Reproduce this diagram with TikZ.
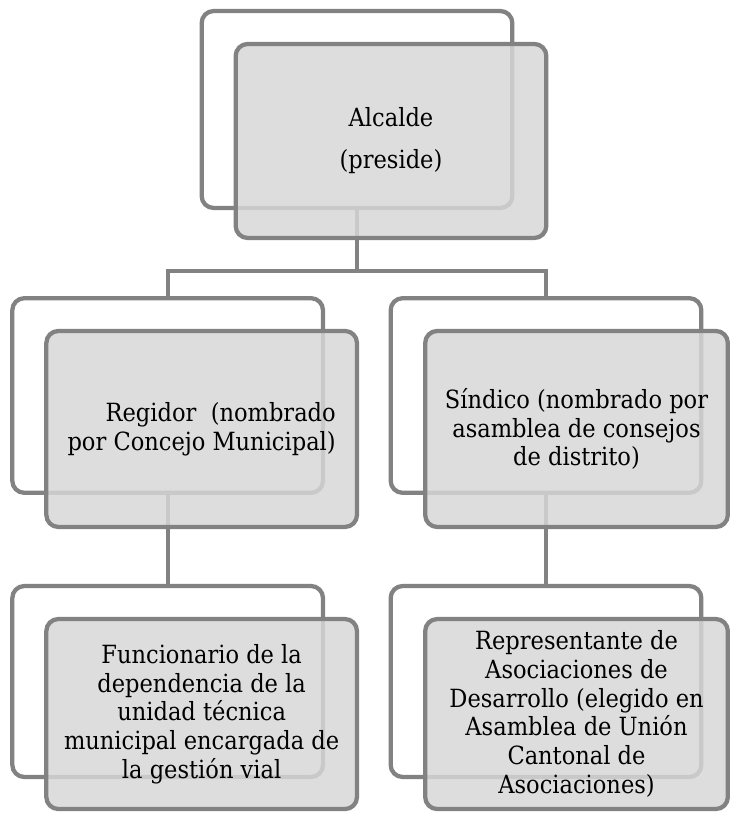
\documentclass[tikz,border=0pt]{standalone}
\usepackage{fontspec}
\setmainfont{DejaVu Serif}[FakeStretch=0.9]
\usetikzlibrary{shapes.geometric, arrows}
\definecolor{boxline}{RGB}{130,130,130}
\definecolor{boxfill}{RGB}{215,215,216}
\tikzstyle{backbox} = [rectangle, rounded corners=9pt, minimum width=233pt, minimum height=146pt, draw=boxline, line width=3.2pt]
\tikzstyle{frontbox} = [rectangle, rounded corners=9pt, minimum width=233pt, minimum height=146pt, align=center, draw=boxline, line width=3.2pt, fill=boxfill, fill opacity=0.84, text opacity=1, text=black, font=\fontsize{18.8}{21.5}\selectfont]
\tikzstyle{link} = [draw=boxline, line width=3.2pt]

\begin{document}
\begin{tikzpicture}[node distance=214.5pt]
\useasboundingbox (-267.75pt,82.125pt) rectangle (279pt,-528.375pt);
% back boxes
\node (alcaldeb) [backbox, minimum height=147.75pt] {};
\node (regidorb) [backbox, below of=alcaldeb, xshift=-142pt] {};
\node (sindicob) [backbox, below of=alcaldeb, xshift=141.75pt] {};
\node (funcb) [backbox, below of=regidorb, minimum height=143.25pt] {};
\node (reprb) [backbox, below of=sindicob, minimum height=143.25pt] {};
\draw [link] (alcaldeb.south) -- ++(0,-45.75pt) -| (regidorb.north);
\draw [link] (alcaldeb.south) -- ++(0,-45.75pt) -| (sindicob.north);
\draw [link] (regidorb) -- (funcb);
\draw [link] (sindicob) -- (reprb);
% front boxes
\node (alcalde) [frontbox, minimum height=145.5pt, xshift=25.5pt, yshift=-23.6pt] at (alcaldeb) {Alcalde\\[10pt](preside)};
\node (regidor) [frontbox, align=right, minimum height=147pt, xshift=25.5pt, yshift=-25.1pt] at (regidorb) {Regidor~~(nombrado\\por Concejo Municipal)};
\node (sindico) [frontbox, minimum width=227pt, minimum height=147pt, xshift=22.9pt, yshift=-25.1pt] at (sindicob) {Síndico (nombrado por\\asamblea de consejos\\de distrito)};
\node (func) [frontbox, minimum height=142.5pt, xshift=25.5pt, yshift=-24.4pt] at (funcb) {Funcionario de la\\dependencia de la\\unidad técnica\\municipal encargada de\\la gestión vial};
\node (repr) [frontbox, minimum width=227pt, minimum height=142.5pt, xshift=22.9pt, yshift=-24.4pt] at (reprb) {Representante de\\Asociaciones de\\Desarrollo (elegido en\\Asamblea de Unión\\Cantonal de\\Asociaciones)};
\end{tikzpicture}
\end{document}
